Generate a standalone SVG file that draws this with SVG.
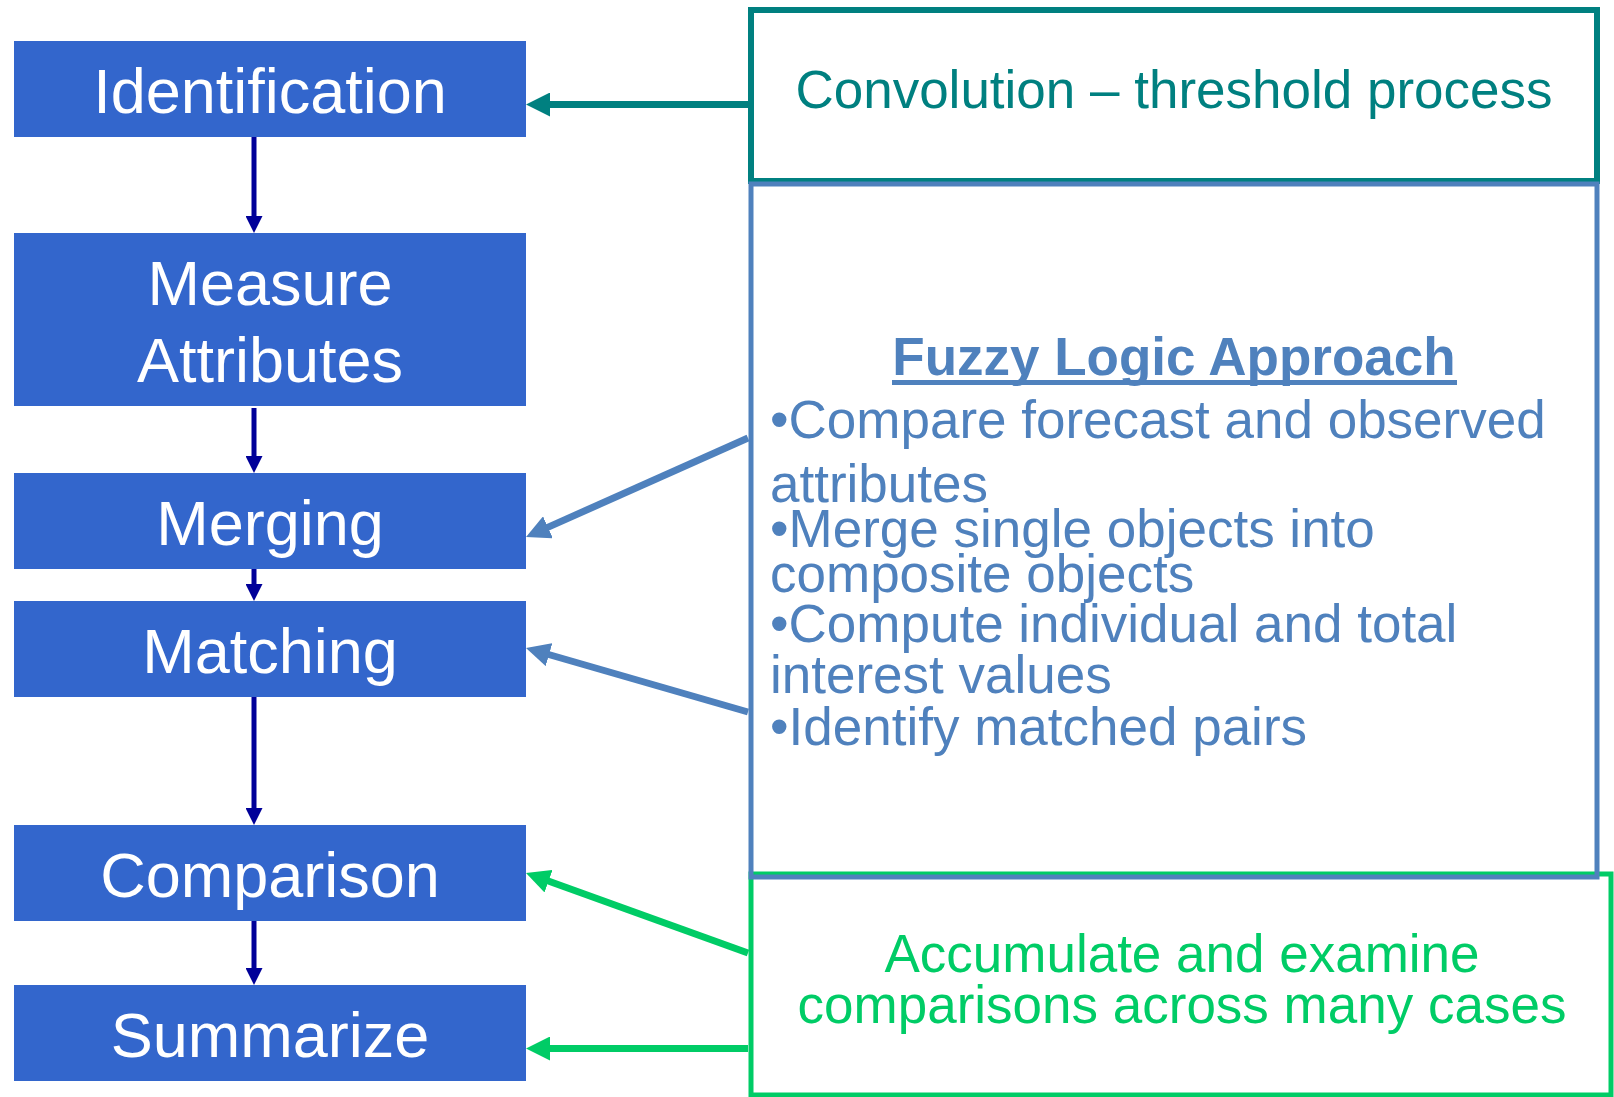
<svg xmlns="http://www.w3.org/2000/svg" width="1614" height="1097" viewBox="0 0 1614 1097">
<style>
.box{fill:#3366cc;}
.lbl{font-family:"Liberation Sans",Arial,sans-serif;font-size:63px;fill:#ffffff;text-anchor:middle;}
.rt{font-family:"Liberation Sans",Arial,sans-serif;font-size:53px;}
.down{stroke:#000099;stroke-width:5;fill:none;}
</style>
<defs>
<marker id="ahDown" markerUnits="userSpaceOnUse" markerWidth="17" markerHeight="17" refX="3" refY="8.5" orient="auto"><path d="M0,0 L17,8.5 L0,17 z" fill="#000099"/></marker>
<marker id="ahTeal" markerUnits="userSpaceOnUse" markerWidth="24" markerHeight="24" refX="4" refY="12" orient="auto"><path d="M0,0 L24,12 L0,24 z" fill="#008080"/></marker>
<marker id="ahBlue" markerUnits="userSpaceOnUse" markerWidth="24" markerHeight="24" refX="4" refY="12" orient="auto"><path d="M0,0 L24,12 L0,24 z" fill="#4f81bd"/></marker>
<marker id="ahGreen" markerUnits="userSpaceOnUse" markerWidth="24" markerHeight="24" refX="4" refY="12" orient="auto"><path d="M0,0 L24,12 L0,24 z" fill="#00cc66"/></marker>
</defs>
<rect x="0" y="0" width="1614" height="1097" fill="#ffffff"/>

<g id="identification"><rect class="box" x="14" y="41" width="512" height="96"/><text class="lbl" x="270" y="113">Identification</text></g>
<g id="measure"><rect class="box" x="14" y="233" width="512" height="173"/><text class="lbl" x="270" y="305">Measure</text><text class="lbl" x="270" y="382">Attributes</text></g>
<g id="merging"><rect class="box" x="14" y="473" width="512" height="96"/><text class="lbl" x="270" y="545">Merging</text></g>
<g id="matching"><rect class="box" x="14" y="601" width="512" height="96"/><text class="lbl" x="270" y="673">Matching</text></g>
<g id="comparison"><rect class="box" x="14" y="825" width="512" height="96"/><text class="lbl" x="270" y="897">Comparison</text></g>
<g id="summarize"><rect class="box" x="14" y="985" width="512" height="96"/><text class="lbl" x="270" y="1057">Summarize</text></g>

<g id="convolution"><rect x="751" y="10" width="846" height="171" fill="none" stroke="#008080" stroke-width="6"/><text class="rt" x="1174" y="108" fill="#008080" text-anchor="middle">Convolution – threshold process</text></g>
<g id="accumulate"><rect x="751" y="874" width="860" height="221" fill="none" stroke="#00cc66" stroke-width="5"/><text class="rt" x="1182" y="972" fill="#00cc66" text-anchor="middle">Accumulate and examine</text><text class="rt" x="1182" y="1023" fill="#00cc66" text-anchor="middle">comparisons across many cases</text></g>
<g id="fuzzy"><rect x="751" y="184" width="846" height="693" fill="none" stroke="#4f81bd" stroke-width="5"/>
<text class="rt" x="1174" y="375" fill="#4f81bd" text-anchor="middle" font-weight="bold">Fuzzy Logic Approach</text>
<rect x="892" y="380" width="565" height="5" fill="#4f81bd"/>
<g fill="#4f81bd">
<text class="rt" x="770" y="438">•Compare forecast and observed</text>
<text class="rt" x="770" y="502">attributes</text>
<text class="rt" x="770" y="547">•Merge single objects into</text>
<text class="rt" x="770" y="592">composite objects</text>
<text class="rt" x="770" y="642">•Compute individual and total</text>
<text class="rt" x="770" y="693">interest values</text>
<text class="rt" x="770" y="745">•Identify matched pairs</text>
</g></g>

<g id="connectors">
<line class="down" x1="254" y1="137" x2="254" y2="219" marker-end="url(#ahDown)"/>
<line class="down" x1="254" y1="408" x2="254" y2="459" marker-end="url(#ahDown)"/>
<line class="down" x1="254" y1="569" x2="254" y2="587" marker-end="url(#ahDown)"/>
<line class="down" x1="254" y1="697" x2="254" y2="811" marker-end="url(#ahDown)"/>
<line class="down" x1="254" y1="921" x2="254" y2="971" marker-end="url(#ahDown)"/>
<line x1="748" y1="104.5" x2="546" y2="104.5" stroke="#008080" stroke-width="7" marker-end="url(#ahTeal)"/>
<line x1="748" y1="438" x2="544.3" y2="528.9" stroke="#4f81bd" stroke-width="7" marker-end="url(#ahBlue)"/>
<line x1="748" y1="712" x2="545.2" y2="653.5" stroke="#4f81bd" stroke-width="7" marker-end="url(#ahBlue)"/>
<line x1="748" y1="953" x2="544.8" y2="879.8" stroke="#00cc66" stroke-width="7" marker-end="url(#ahGreen)"/>
<line x1="748" y1="1048.5" x2="546" y2="1048.5" stroke="#00cc66" stroke-width="7" marker-end="url(#ahGreen)"/>
</g>
</svg>
